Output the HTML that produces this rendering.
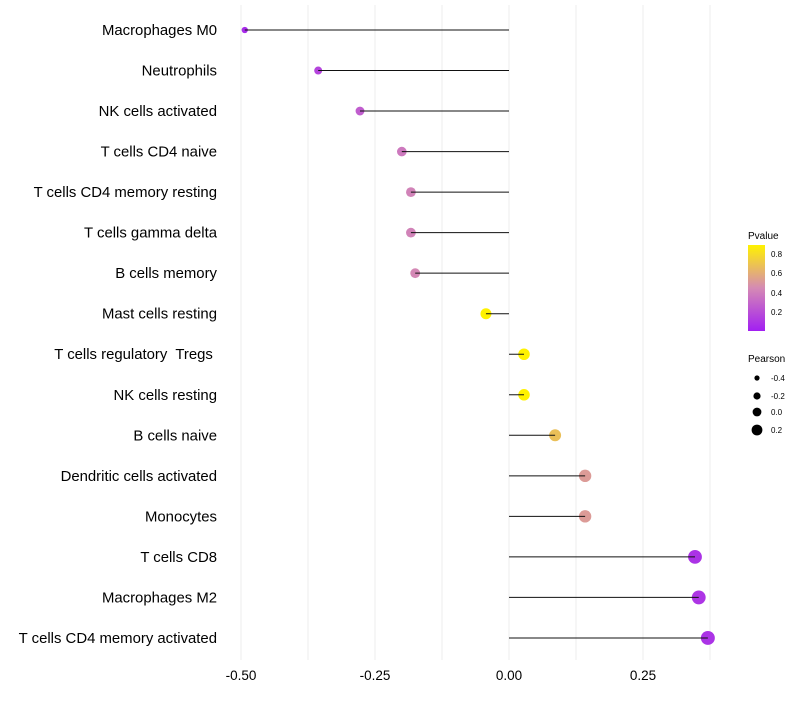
<!DOCTYPE html>
<html><head><meta charset="utf-8"><style>
body{margin:0;background:#fff;}
svg text{font-family:"Liberation Sans",sans-serif;white-space:pre;}
</style></head><body>
<svg id="chart" width="800" height="700" xmlns="http://www.w3.org/2000/svg">
<defs><linearGradient id="pg" x1="0" y1="1" x2="0" y2="0">
<stop offset="0" stop-color="#A21FF2"/><stop offset="0.5" stop-color="#D58AB4"/><stop offset="1" stop-color="#FFF200"/></linearGradient></defs>
<g id="grid"></g><g id="marks"></g><g id="labels"></g>
<g>
<text x="748" y="239" font-size="10">Pvalue</text>
<rect x="748" y="245" width="17" height="86" fill="url(#pg)"/>
<text x="771" y="257" font-size="8">0.8</text><text x="771" y="276" font-size="8">0.6</text>
<text x="771" y="296" font-size="8">0.4</text><text x="771" y="315" font-size="8">0.2</text>
</g>
<g>
<text x="748" y="362" font-size="10">Pearson</text>
<circle cx="757" cy="378" r="2.6"/><text x="771" y="381" font-size="8">-0.4</text>
<circle cx="757" cy="396" r="3.6"/><text x="771" y="399" font-size="8">-0.2</text>
<circle cx="757" cy="412" r="4.4"/><text x="771" y="415" font-size="8">0.0</text>
<circle cx="757" cy="430" r="5.4"/><text x="771" y="433" font-size="8">0.2</text>
</g>
</svg>
<script>
const categories=["Macrophages M0","Neutrophils","NK cells activated","T cells CD4 naive","T cells CD4 memory resting","T cells gamma delta","B cells memory","Mast cells resting","T cells regulatory  Tregs ","NK cells resting","B cells naive","Dendritic cells activated","Monocytes","T cells CD8","Macrophages M2","T cells CD4 memory activated"];
const pearson=[-0.493,-0.356,-0.278,-0.2,-0.183,-0.183,-0.175,-0.043,0.028,0.028,0.086,0.142,0.142,0.347,0.354,0.371];
const pvalues=[0.05,0.15,0.25,0.36,0.4,0.4,0.42,0.86,0.88,0.88,0.65,0.5,0.5,0.08,0.09,0.08];
const xTicks=[-0.5,-0.25,0,0.25];
const xTickLabels=["-0.50","-0.25","0.00","0.25"];
const NS="http://www.w3.org/2000/svg";
const xs=v=>509+v*536, ys=i=>30+i*40.53;
function col(p){const t=Math.min(p/0.86,1);const a=[[162,31,242],[213,138,180],[255,242,0]];
 const s=t<0.5?0:1,u=t<0.5?t*2:(t-0.5)*2;const c=a[s].map((v,k)=>Math.round(v+(a[s+1][k]-v)*u));return `rgb(${c})`;}
function mk(tag,at,parent){const e=document.createElementNS(NS,tag);for(const k in at)e.setAttribute(k,at[k]);document.getElementById(parent).appendChild(e);return e;}
for(let v=-0.5;v<=0.38;v+=0.125){const g=mk('line',{x1:xs(v),x2:xs(v),y1:5,y2:660,stroke:'#ececec','stroke-width':1},'grid');

}
xTicks.forEach((v,i)=>{const t=mk('text',{x:xs(v),y:680,'font-size':13.5,'text-anchor':'middle',fill:'#000'},'labels');t.textContent=xTickLabels[i];

});
categories.forEach((c,i)=>{const y=ys(i);
const t=mk('text',{x:217,y:y+5,'font-size':14.9,'text-anchor':'end',fill:'#000'},'labels');t.textContent=c;


const r=Math.sqrt(Math.max(2.5,16+45*(pearson[i]+0.356)));
const d=mk('circle',{cx:xs(pearson[i]),cy:y,r:r,fill:col(pvalues[i])},'marks');


const l=mk('line',{x1:xs(0),x2:xs(pearson[i]),y1:y,y2:y,stroke:'#111','stroke-width':1},'marks');

});
</script>
</body></html>
